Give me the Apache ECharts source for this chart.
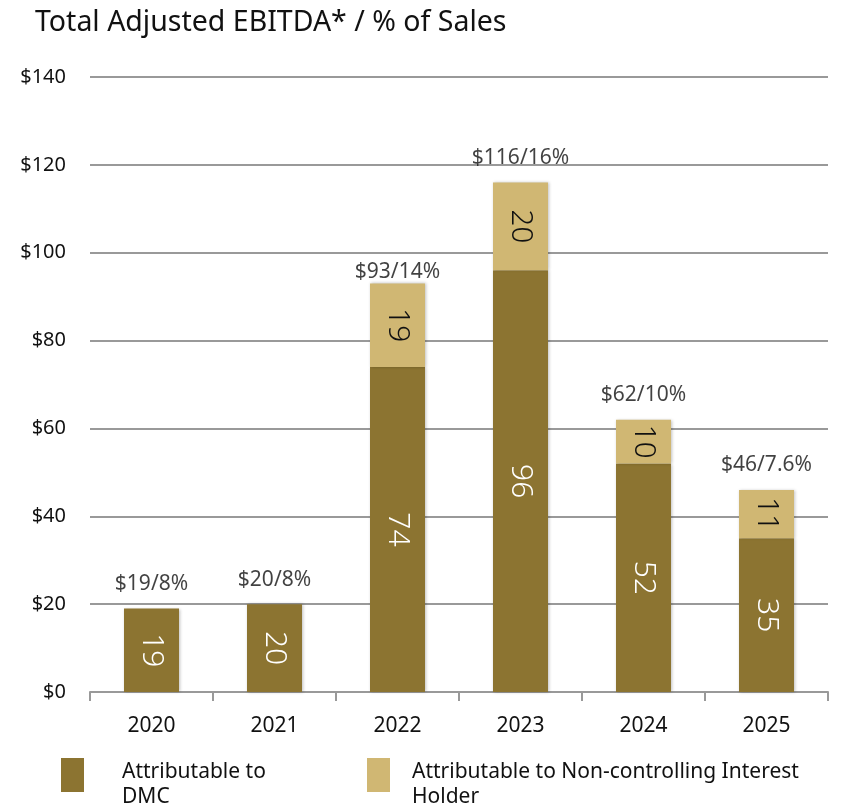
<!DOCTYPE html>
<html>
<head>
<meta charset="utf-8">
<script src="https://cdn.jsdelivr.net/npm/echarts@6/dist/echarts.min.js"></script>
<style>
  html, body { margin: 0; padding: 0; background: #fff; }
  #chart { width: 867px; height: 811px; }
</style>
</head>
<body>
<div id="chart"></div>
<script>
const years = ['2020', '2021', '2022', '2023', '2024', '2025'];
const dmc = [19, 20, 74, 96, 52, 35];
const nci = [0, 0, 19, 20, 10, 11];
const totals = [19, 20, 93, 116, 62, 46];
const pctOfSales = ['8%', '8%', '14%', '16%', '10%', '7.6%'];
const yTicks = [0, 20, 40, 60, 80, 100, 120, 140];

const FONT = '"Noto Sans", sans-serif';
const DARK = '#8C7431';
const LIGHT = '#D0B773';

const chart = echarts.init(document.getElementById('chart'));

// light drop shadow like the original bars
const barShadow = { shadowBlur: 3, shadowColor: 'rgba(0,0,0,0.25)', shadowOffsetX: 1, shadowOffsetY: 0 };

// legend text sits a bit lower than the square, so push it down with an empty first line
const legendText = name => '{s| }\n' + name.split('\n').map(t => '{a|' + t + '}').join('\n');
const legendRich = {
    s: { fontSize: 10, lineHeight: 20 },
    a: { fontFamily: FONT, fontSize: 21, color: '#111', lineHeight: 25 }
};

// the 2022 total label hugs its bar in the original
const totalData = totals.map((v, i) => (years[i] === '2022' ? { value: v, label: { distance: 1 } } : v));

chart.setOption({
    animation: false,
    title: {
        text: 'Total Adjusted EBITDA* / % of Sales',
        left: 30,
        top: 3,
        textStyle: { fontFamily: FONT, fontSize: 28.5, fontWeight: 'normal', color: '#111' }
    },
    grid: { left: 90, right: 39, top: 77, bottom: 119, containLabel: false },
    legend: [
        {
            data: ['Attributable to\nDMC'],
            left: 56, top: 740, icon: 'rect',
            itemWidth: 23, itemHeight: 34,
            formatter: legendText,
            textStyle: { padding: [0, 0, 0, 33], rich: legendRich }
        },
        {
            data: ['Attributable to Non-controlling Interest\nHolder'],
            left: 362, top: 740, icon: 'rect',
            itemWidth: 23, itemHeight: 34,
            formatter: legendText,
            textStyle: { padding: [0, 0, 0, 17], rich: legendRich }
        }
    ],
    xAxis: {
        type: 'category',
        data: years,
        axisLine: { lineStyle: { color: '#999', width: 2 } },
        axisTick: { show: true, length: 9, lineStyle: { color: '#999', width: 2 } },
        axisLabel: { fontFamily: FONT, fontSize: 21, color: '#111', margin: 24 }
    },
    yAxis: {
        type: 'value',
        min: yTicks[0],
        max: yTicks[yTicks.length - 1],
        interval: 20,
        axisLine: { show: false },
        axisTick: { show: false },
        splitLine: { lineStyle: { color: '#999', width: 2 } },
        axisLabel: {
            fontFamily: FONT, fontSize: 20, color: '#111', margin: 24,
            formatter: v => '$' + v
        }
    },
    series: [
        {
            name: 'Attributable to\nDMC',
            type: 'bar',
            stack: 'ebitda',
            barWidth: 55,
            data: dmc,
            itemStyle: Object.assign({ color: DARK }, barShadow),
            label: {
                show: true,
                position: 'inside',
                rotate: -90,
                fontFamily: FONT,
                fontWeight: 300,
                fontSize: 30,
                color: '#fff'
            }
        },
        {
            name: 'Attributable to Non-controlling Interest\nHolder',
            type: 'bar',
            stack: 'ebitda',
            barWidth: 55,
            data: nci,
            itemStyle: Object.assign({ color: LIGHT }, barShadow),
            label: {
                show: true,
                position: 'inside',
                rotate: -90,
                fontFamily: FONT,
                fontWeight: 300,
                fontSize: 30,
                color: '#111',
                formatter: p => (p.value ? p.value : '')
            }
        },
        {
            name: 'total',
            type: 'scatter',
            data: totalData,
            symbolSize: 0,
            silent: true,
            label: {
                show: true,
                position: 'top',
                distance: 14,
                fontFamily: FONT,
                fontSize: 21,
                color: '#111',
                formatter: p => '$' + p.value + '/' + pctOfSales[p.dataIndex]
            }
        }
    ]
});
</script>
</body>
</html>
